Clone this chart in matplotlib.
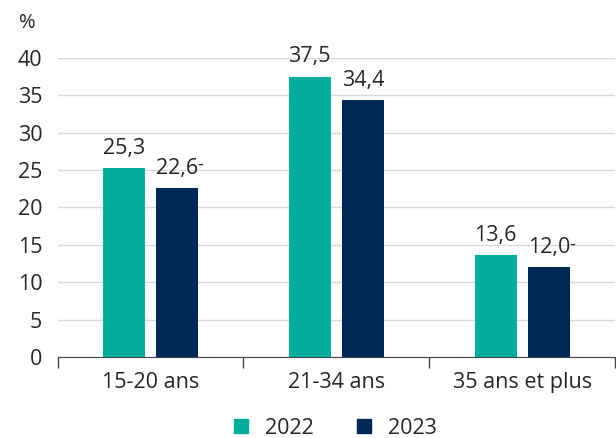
import numpy as np
import matplotlib.pyplot as plt
from matplotlib.patches import Patch

plt.rcParams['font.family'] = ['Open Sans', 'DejaVu Sans']

categories = ['15-20 ans', '21-34 ans', '35 ans et plus']
years = ['2022', '2023']
values_2022 = [25.3, 37.5, 13.6]
values_2023 = [22.6, 34.4, 12.0]
labels_2022 = ['25,3', '37,5', '13,6']
labels_2023 = ['22,6', '34,4', '12,0']
marks_2023 = ['-', '', '-']  # significance marker after the value

teal = '#00ad9c'
navy = '#002856'
txt = '#262626'
fs = 15.5

fig = plt.figure(figsize=(6.16, 4.38), dpi=100)
ax = fig.add_axes([0.0935, 0.185, 0.905, 0.683])

x = np.arange(len(categories))
w = 0.226
off = 0.143
b1 = ax.bar(x - off, values_2022, w, color=teal, zorder=3)
b2 = ax.bar(x + off, values_2023, w, color=navy, zorder=3)

for bars, labs, marks in ((b1, labels_2022, [''] * 3), (b2, labels_2023, marks_2023)):
    for r, lab, m in zip(bars, labs, marks):
        t = ax.annotate(lab, (r.get_x() + r.get_width() / 2, r.get_height()),
                        xytext=(0, 6.5), textcoords='offset points',
                        ha='center', va='bottom', fontsize=fs, color=txt)
        if m:
            ax.annotate(m, xy=(0.98, 1.08), xycoords=t, ha='left', va='top',
                        fontsize=13, color=txt)

ax.set_xlim(-0.5, 2.5)
ax.set_ylim(0, 40)
ax.set_yticks(range(0, 41, 5))
ax.set_xticks([-0.5, 0.5, 1.5, 2.5], minor=False)
ax.set_xticklabels([])
ax.set_xticks(x, minor=True)
ax.set_xticklabels(categories, minor=True)
ax.tick_params(axis='x', which='major', length=8, width=1, color='#444444', direction='out')
ax.tick_params(axis='x', which='minor', length=0, labelsize=fs, labelcolor=txt, pad=11)
ax.tick_params(axis='y', length=0, labelsize=fs, labelcolor=txt, pad=11)

ax.grid(axis='y', color='#d9d9d9', linewidth=1, zorder=0)
for s in ('top', 'right', 'left'):
    ax.spines[s].set_visible(False)
ax.spines['bottom'].set_color('#444444')
ax.spines['bottom'].set_zorder(4)

fig.text(0.044, 0.947, '%', fontsize=fs - 1, color=txt, ha='center', va='center')

handles = [Patch(color=teal, label=years[0]), Patch(color=navy, label=years[1])]
fig.legend(handles=handles, loc='center', bbox_to_anchor=(0.545, 0.022),
           ncol=2, frameon=False, fontsize=fs, handlelength=0.65,
           handleheight=0.65, handletextpad=0.8, columnspacing=2.0,
           labelcolor=txt)

fig.savefig('out.png', dpi=100)
